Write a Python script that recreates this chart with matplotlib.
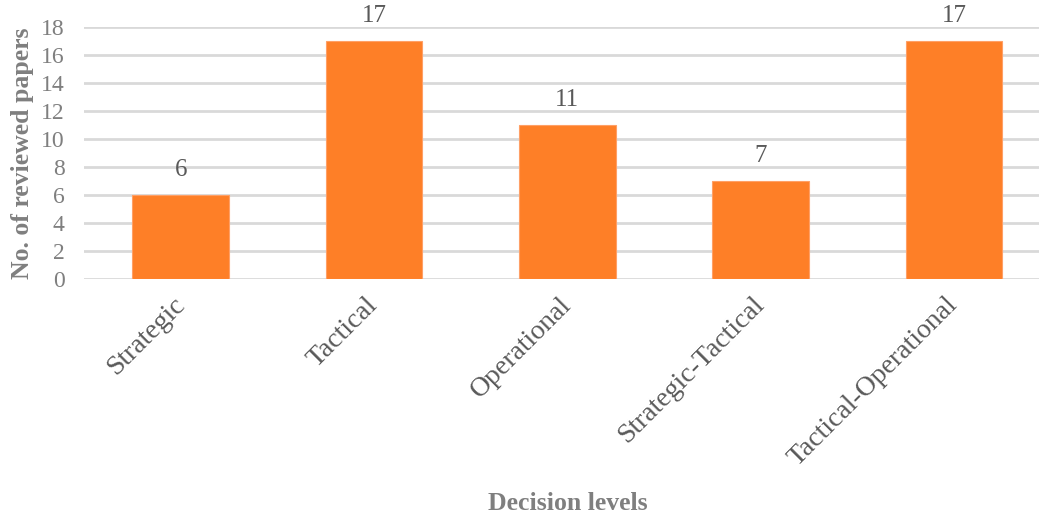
import matplotlib.pyplot as plt

categories = ["Strategic", "Tactical", "Operational", "Strategic-Tactical", "Tactical-Operational"]
papers = [6, 17, 11, 7, 17]
yticks = [0, 2, 4, 6, 8, 10, 12, 14, 16, 18]

plt.rcParams['font.family'] = ['Liberation Serif', 'DejaVu Serif']

fig = plt.figure(figsize=(10.39, 5.19), dpi=100)
ax = fig.add_axes([84 / 1039, 1 - 279 / 519, (1039 - 84) / 1039, 252 / 519])

x = range(len(categories))
bars = ax.bar(x, papers, width=0.5, color='#FE7F27', edgecolor='#FFA066', linewidth=0.8, zorder=3)
for xi, v in zip(x, papers):
    ax.annotate(str(v), (xi, v), xytext=(0, 10), textcoords='offset points',
                ha='center', va='bottom', fontsize=18, color='#595959')

ax.set_xlim(-0.5, 4.44)
ax.set_ylim(0, 18)
ax.set_yticks(yticks)
ax.yaxis.grid(True, color='#D9D9D9', linewidth=2, zorder=0)
ax.set_axisbelow(True)
for s in ax.spines.values():
    s.set_visible(False)
ax.tick_params(axis='both', length=0)
ax.tick_params(axis='y', pad=14, labelsize=17, labelcolor='#7F7F7F')
ax.set_xticks(list(x))
ax.set_xticklabels(categories, rotation=45, ha='right', va='center', rotation_mode='anchor',
                   fontsize=20, color='#595959')
ax.tick_params(axis='x', pad=16)

ax.set_ylabel('No. of reviewed papers', fontsize=18.5, fontweight='bold', color='#7F7F7F')
ax.yaxis.set_label_coords(-50 / 955, 0.5)
fig.text(568 / 1039, 1 - 504 / 519, 'Decision levels', ha='center', va='center',
         fontsize=18.5, fontweight='bold', color='#7F7F7F')

fig.savefig('out.png', dpi=100)
